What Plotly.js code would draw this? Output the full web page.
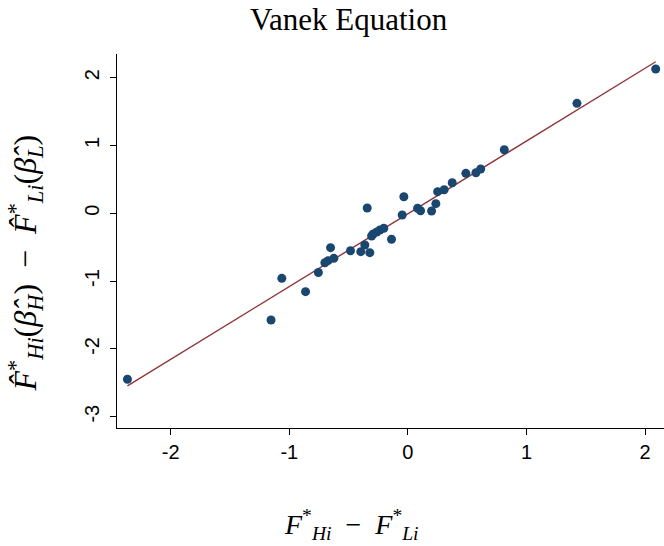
<!DOCTYPE html>
<html>
<head>
<meta charset="utf-8">
<script src="https://cdn.plot.ly/plotly-3.0.1.min.js"></script>
<style>
  html, body { margin: 0; padding: 0; background: #fff; }
  #chart { width: 664px; height: 546px; }
</style>
</head>
<body>
<div id="chart"></div>
<script>
// Predicted factor content differences (x) vs. measured differences (y)
const factorDiff = [
  -2.365, -1.154, -1.063, -0.863, -0.755, -0.700, -0.673, -0.652, -0.624,
  -0.484, -0.397, -0.363, -0.343, -0.321, -0.306, -0.293, -0.262, -0.236,
  -0.203, -0.138, -0.048, -0.034, 0.082, 0.107, 0.200, 0.236, 0.251,
  0.306, 0.374, 0.489, 0.574, 0.614, 0.813, 1.426, 2.090
];
const estimatedDiff = [
  -2.448, -1.574, -0.959, -1.156, -0.873, -0.729, -0.699, -0.507, -0.664,
  -0.552, -0.566, -0.468, 0.078, -0.581, -0.335, -0.305, -0.276, -0.246,
  -0.221, -0.383, -0.025, 0.245, 0.074, 0.038, 0.034, 0.142, 0.319,
  0.348, 0.451, 0.590, 0.599, 0.653, 0.938, 1.622, 2.128
];

const xTickVals = [-2, -1, 0, 1, 2];
const xTickText = ["-2", "-1", "0", "1", "2"];
const yTickVals = [-3, -2, -1, 0, 1, 2];
const yTickText = ["-3", "-2", "-1", "0", "1", "2"];

// Least-squares fit line across the observed x span
function linearFit(xs, ys) {
  const n = xs.length;
  const mx = xs.reduce((a, b) => a + b, 0) / n;
  const my = ys.reduce((a, b) => a + b, 0) / n;
  let sxy = 0, sxx = 0;
  for (let i = 0; i < n; i++) {
    sxy += (xs[i] - mx) * (ys[i] - my);
    sxx += (xs[i] - mx) * (xs[i] - mx);
  }
  const slope = sxy / sxx;
  return { slope: slope, intercept: my - slope * mx };
}
const fit = linearFit(factorDiff, estimatedDiff);
const xMin = Math.min(...factorDiff);
const xMax = Math.max(...factorDiff);
const fitX = [xMin, xMax];
const fitY = fitX.map(v => fit.intercept + fit.slope * v);

const scatter = {
  x: factorDiff,
  y: estimatedDiff,
  type: "scatter",
  mode: "markers",
  marker: { color: "#1a476f", size: 9, line: { width: 0 } },
  hoverinfo: "x+y",
  showlegend: false
};
const fitLine = {
  x: fitX,
  y: fitY,
  type: "scatter",
  mode: "lines",
  line: { color: "#90353b", width: 1.4 },
  hoverinfo: "skip",
  showlegend: false
};

const tickFont = { family: "Liberation Sans, Arial, sans-serif", size: 20, color: "#000" };
const serif = "Liberation Serif, Times New Roman, serif";
const gap = "\u00a0\u00a0";

const axisCommon = {
  showgrid: false,
  zeroline: false,
  showline: true,
  linecolor: "#000",
  linewidth: 1,
  ticks: "outside",
  ticklen: 6,
  tickwidth: 1,
  tickcolor: "#000",
  tickfont: tickFont,
  fixedrange: true
};

const layout = {
  width: 664,
  height: 546,
  margin: { l: 117, r: 0, t: 54, b: 118 },
  paper_bgcolor: "#fff",
  plot_bgcolor: "#fff",
  title: {
    text: "Vanek Equation",
    font: { family: serif, size: 31, color: "#000" },
    xref: "container",
    x: 0.525,
    xanchor: "center",
    yref: "container",
    y: 0.965,
    yanchor: "middle"
  },
  xaxis: Object.assign({}, axisCommon, {
    range: [-2.453, 2.16],
    tickmode: "array",
    tickvals: xTickVals,
    ticktext: xTickText,
    ticklabelstandoff: 0
  }),
  yaxis: Object.assign({}, axisCommon, {
    range: [-3.167, 2.35],
    tickmode: "array",
    tickvals: yTickVals,
    ticktext: yTickText,
    tickangle: -90,
    ticklabelstandoff: 3
  }),
  annotations: [
    {
      text: "<i>F</i><sup>*</sup><sub><i>Hi</i></sub>" + gap + "−" + gap + "<i>F</i><sup>*</sup><sub><i>Li</i></sub>",
      xref: "paper", yref: "paper",
      x: 0.4296, y: -0.259,
      xanchor: "center", yanchor: "middle",
      showarrow: false,
      font: { family: serif, size: 28, color: "#000" }
    },
    {
      text: "<i>F̂</i><sup>*</sup><sub><i>Hi</i></sub>(<i>β̂</i><sub><i>H</i></sub>)" + gap + "−" + gap +
            "<i>F̂</i><sup>*</sup><sub><i>Li</i></sub>(<i>β̂</i><sub><i>L</i></sub>)",
      xref: "paper", yref: "paper",
      x: -0.168, y: 0.44,
      xanchor: "center", yanchor: "middle",
      textangle: -90,
      showarrow: false,
      font: { family: serif, size: 32, color: "#000" }
    }
  ]
};

Plotly.newPlot("chart", [fitLine, scatter], layout, { displayModeBar: false, staticPlot: true });
</script>
</body>
</html>
